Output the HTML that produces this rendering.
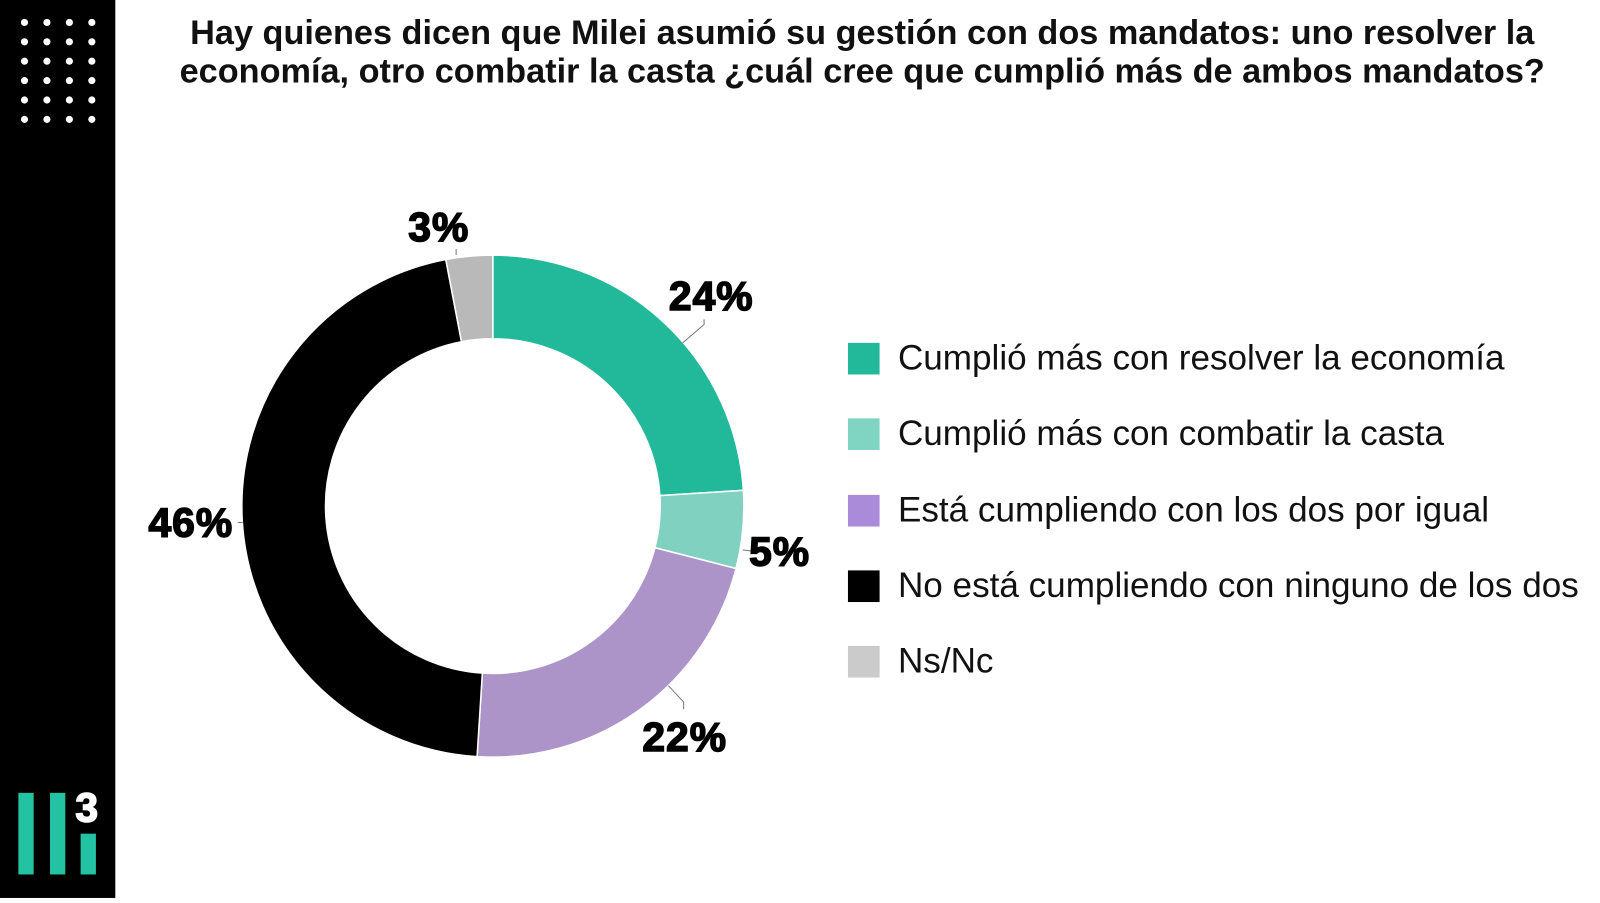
<!DOCTYPE html>
<html><head><meta charset="utf-8"><style>
html,body{margin:0;padding:0;background:#fff;}
body{width:1600px;height:897px;position:relative;overflow:hidden;font-family:"Liberation Sans",sans-serif;}
#w{position:absolute;left:0;top:0;width:1568px;height:880px;transform:scale(1.0204);transform-origin:0 0;}
.side{position:absolute;left:0;top:0;width:113px;height:880px;background:#000;}
.title{position:absolute;left:100px;width:1490px;top:14px;text-align:center;font-weight:bold;font-size:33.6px;line-height:38px;color:#111;}
.leg{position:absolute;left:831px;}
.leg div{position:absolute;left:0;width:31px;height:31px;}
.leg span{position:absolute;left:49px;top:-2px;font-size:34.4px;white-space:nowrap;color:#111;line-height:35px;}
</style></head><body><div id="w">
<div class="side">
<svg width="113" height="880">
<g fill="#fff">
<circle cx="24" cy="22" r="3.5"/><circle cx="46" cy="22" r="3.5"/><circle cx="68" cy="22" r="3.5"/><circle cx="90" cy="22" r="3.5"/>
<circle cx="24" cy="41" r="3.5"/><circle cx="46" cy="41" r="3.5"/><circle cx="68" cy="41" r="3.5"/><circle cx="90" cy="41" r="3.5"/>
<circle cx="24" cy="60" r="3.5"/><circle cx="46" cy="60" r="3.5"/><circle cx="68" cy="60" r="3.5"/><circle cx="90" cy="60" r="3.5"/>
<circle cx="24" cy="79" r="3.5"/><circle cx="46" cy="79" r="3.5"/><circle cx="68" cy="79" r="3.5"/><circle cx="90" cy="79" r="3.5"/>
<circle cx="24" cy="98" r="3.5"/><circle cx="46" cy="98" r="3.5"/><circle cx="68" cy="98" r="3.5"/><circle cx="90" cy="98" r="3.5"/>
<circle cx="24" cy="117" r="3.5"/><circle cx="46" cy="117" r="3.5"/><circle cx="68" cy="117" r="3.5"/><circle cx="90" cy="117" r="3.5"/>
</g>
<g fill="#22c2a2">
<rect x="18" y="777" width="15" height="80"/><rect x="49" y="777" width="15" height="80"/><rect x="79" y="817" width="15" height="40"/>
</g>
<text x="85" y="805" text-anchor="middle" fill="#fff" stroke="#fff" stroke-width="1.5" font-weight="bold" font-size="40" font-family="Liberation Sans">3</text>
</svg>
</div>
<div class="title">Hay quienes dicen que Milei asumió su gestión con dos mandatos: uno resolver la<br>economía, otro combatir la casta ¿cuál cree que cumplió más de ambos mandatos?</div>
<svg style="position:absolute;left:0;top:0" width="1568" height="880" id="ch"></svg>
<div class="leg" style="top:336px"><div style="background:#22b99a"></div><span>Cumplió más con resolver la economía</span></div>
<div class="leg" style="top:410px"><div style="background:#80d4c2"></div><span>Cumplió más con combatir la casta</span></div>
<div class="leg" style="top:485px"><div style="background:#a98bd9"></div><span>Está cumpliendo con los dos por igual</span></div>
<div class="leg" style="top:559px"><div style="background:#000"></div><span>No está cumpliendo con ninguno de los dos</span></div>
<div class="leg" style="top:633px"><div style="background:#cbcbcb"></div><span>Ns/Nc</span></div>
</div>
<script>
var cx=483,cy=496,R=246,r=164;
var d=[[24,"#22b99a"],[5,"#80d1bf"],[22,"#ac93c8"],[46,"#000"],[3,"#b9b9b9"]];
var s="",a=0;
function p(rad,ang){var t=ang*Math.PI/180;return [cx+rad*Math.sin(t),cy-rad*Math.cos(t)];}
d.forEach(function(e){var b=a+e[0]*3.6,l=(b-a)>180?1:0;
var p1=p(R,a),p2=p(R,b),p3=p(r,b),p4=p(r,a);
s+='<path d="M'+p1+' A'+R+' '+R+' 0 '+l+' 1 '+p2+' L'+p3+' A'+r+' '+r+' 0 '+l+' 0 '+p4+'Z" fill="'+e[1]+'" stroke="#fff" stroke-width="1.5"/>';a=b;});
s+='<g stroke="#777" stroke-width="1" fill="none"><path d="M669 336 L690 318 L690 313"/><path d="M728 539 L736 540"/><path d="M655 672 L670 688 L670 695"/><path d="M233 512 L238 512"/><path d="M447 250 L447 244"/></g>';
s+='<g font-family="Liberation Sans" font-weight="bold" font-size="40" fill="#000" text-anchor="middle" stroke="#000" stroke-width="1.5" letter-spacing="1">';
s+='<text x="430" y="236">3%</text><text x="697" y="304">24%</text><text x="764" y="554">5%</text><text x="671" y="736">22%</text><text x="187" y="526">46%</text></g>';
document.getElementById("ch").innerHTML=s;
</script>
</body></html>
